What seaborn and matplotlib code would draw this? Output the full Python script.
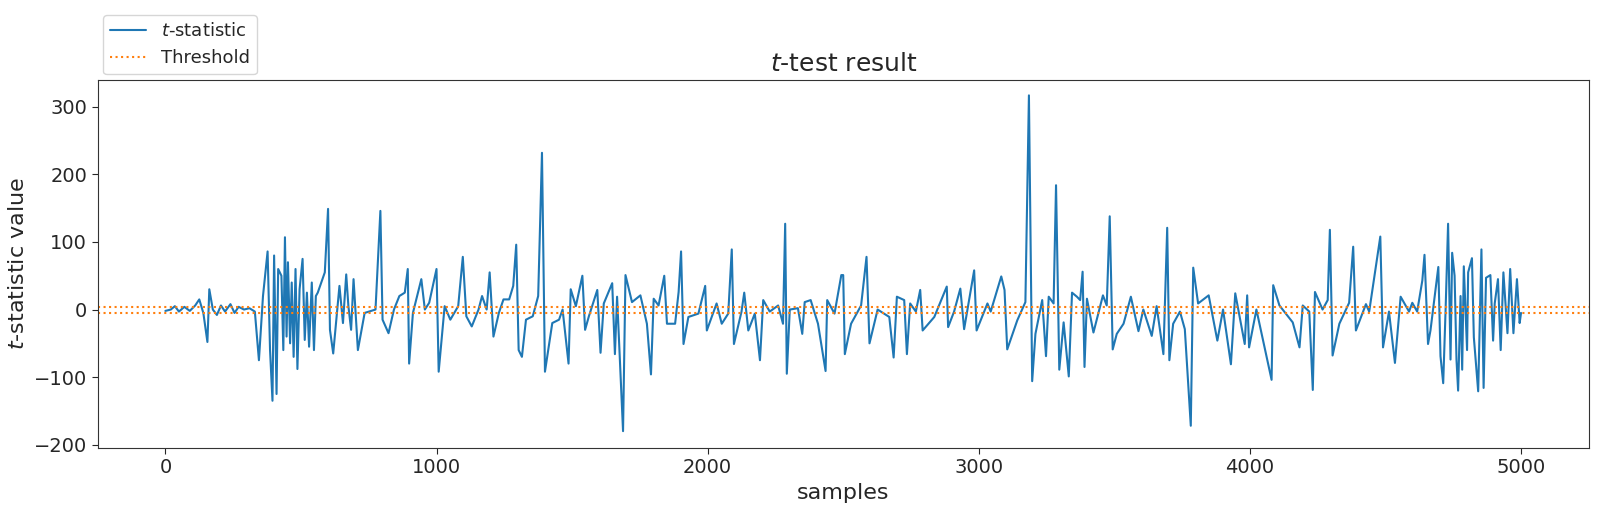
import numpy as np
import pandas as pd
import matplotlib
matplotlib.use("Agg")
import matplotlib.pyplot as plt
import seaborn as sns

samples = [0, 20, 35, 50, 70, 90, 110, 125, 140, 155, 162, 175, 190, 205, 220, 240, 255, 270, 290, 310, 330,
           345, 360, 377, 386, 395, 401, 410, 416, 428, 435, 441, 447, 452, 460, 466, 473, 480, 487, 495, 506,
           514, 522, 530, 540, 548, 555, 562, 588, 600, 607, 619, 635, 642, 655, 667, 675, 685, 694, 710, 735,
           775, 793, 801, 823, 843, 863, 883, 894, 899, 913, 944, 957, 973, 1000, 1008, 1030, 1051, 1080, 1097,
           1110, 1130, 1155, 1168, 1185, 1196, 1210, 1230, 1247, 1268, 1283, 1294, 1303, 1315, 1330, 1355, 1375,
           1389, 1400, 1427, 1452, 1465, 1487, 1495, 1514, 1538, 1548, 1562,
           1593, 1605, 1617, 1648, 1658, 1666, 1688, 1697, 1721, 1752, 1776, 1791, 1801, 1819, 1840, 1850, 1880,
           1893, 1902, 1911, 1929, 1966, 1991, 1997, 2033, 2052, 2076, 2089, 2097, 2125, 2135, 2150, 2174, 2193,
           2205, 2229, 2260, 2278, 2286, 2292, 2303, 2333, 2349, 2358, 2380, 2407, 2435, 2441, 2468, 2493, 2500,
           2506, 2529, 2566, 2586, 2597, 2627, 2670, 2686, 2698, 2725, 2735, 2747, 2768, 2784, 2793, 2836, 2882,
           2887, 2909, 2932, 2946, 2983, 2992, 3032, 3044, 3083, 3095, 3105, 3142, 3172, 3185, 3197, 3209,
           3234, 3248, 3258, 3276, 3285, 3297, 3313, 3332, 3344, 3362, 3374, 3383, 3390, 3399, 3423, 3458, 3472,
           3483, 3494, 3509, 3534, 3561, 3589, 3607, 3638, 3656, 3681, 3695, 3703, 3717, 3742, 3760, 3782, 3791,
           3809, 3848, 3880, 3901, 3930, 3946, 3981, 3990, 3997, 4024, 4080, 4086, 4109, 4158, 4183, 4195, 4219,
           4232, 4240, 4268, 4287, 4295, 4305, 4330, 4366, 4381, 4391, 4428, 4440, 4481, 4491, 4513, 4535, 4556,
           4587, 4599, 4617, 4636, 4644, 4657, 4666, 4695, 4703, 4713, 4722, 4731, 4740, 4746, 4755, 4762, 4768,
           4777, 4783, 4789, 4801, 4805, 4819, 4826, 4842, 4854, 4862, 4871, 4887, 4897, 4903, 4915, 4925, 4935,
           4950, 4960, 4972, 4985, 4995, 5000]
t_values = [-2, 0, 5, -3, 4, -2, 6, 15, -5, -48, 30, 0, -8, 6, -3, 8, -5, 4, 0, 2, -3,
            -75, 20, 86, -60, -135, 80, -125, 60, 50, -60, 107, -40, 70, -50, 40, -70, 60, -88, 30, 75,
            -45, 25, -55, 40, -60, 20, 25, 55, 149, -30, -65, 5, 35, -20, 52, 5, -30, 45, -60, -5,
            0, 146, -15, -35, 0, 20, 25, 60, -80, -5, 45, 0, 10, 60, -92, 5, -15, 5, 78,
            -10, -25, 0, 20, 0, 55, -40, -5, 15, 15, 35, 96, -60, -70, -15, -10, 20,
            232, -92, -20, -15, 0, -80, 30, 5, 50, -30, -10,
            29, -64, 9, 39, -66, 19, -180, 51, 11, 21, -21, -96, 16, 6, 50, -21, -21,
            26, 86, -51, -11, -6, 35, -31, 9, -21, -6, 89, -51, -3, 25, -31, -6, -75,
            14, -3, 6, -21, 127, -95, 0, 2, -36, 11, 14, -21, -91, 14, -6, 51, 51,
            -66, -21, 6, 78, -50, 0, -11, -71, 19, 14, -66, 9, -3, 29, -31, -11, 34,
            -26, -3, 31, -29, 58, -31, 9, -3, 49, 29, -59, -16, 11, 317, -106, -36,
            14, -69, 19, 9, 184, -89, -19, -99, 25, 19, 14, 56, -85, 16, -34, 21, 6,
            138, -59, -36, -21, 19, -32, 0, -39, 5, -66, 121, -75, -21, -3, -29, -172, 62,
            9, 21, -46, 0, -81, 24, -51, 21, -56, 0, -104, 36, 6, -19, -56, 6, -3,
            -119, 26, 0, 14, 118, -68, -21, 10, 93, -31, 8, -3, 108, -56, -3, -79, 19,
            -3, 10, -3, 43, 81, -51, -31, 63, -69, -109, 2, 127, -74, 84, 50, -74, -120,
            20, -89, 64, -60, 55, 76, -41, -121, 89, -116, 47, 51, -46, 9, 45, -60, 55,
            -35, 60, -35, 45, -20, -5]
threshold = 4.5

df = pd.DataFrame({"samples": samples, "t": t_values})

sns.set_style("white")
plt.rcParams['font.family'] = ['DejaVu Sans']
fig, ax = plt.subplots(figsize=(16, 5.15), dpi=100)
fig.subplots_adjust(left=0.061, right=0.993, top=0.845, bottom=0.13)

sns.lineplot(data=df, x="samples", y="t", ax=ax, color="#1f77b4", lw=1.5, label="$t$-statistic")
ax.axhline(threshold, color="#ff7f0e", ls=":", lw=1.5, label="Threshold")
ax.axhline(-threshold, color="#ff7f0e", ls=":", lw=1.5)

ax.set_xlim(-250, 5250)
ax.set_ylim(-205, 340)
ax.set_xticks([0, 1000, 2000, 3000, 4000, 5000])
ax.set_yticks([-200, -100, 0, 100, 200, 300])
ax.tick_params(labelsize=14, length=4, left=True, bottom=True)
ax.set_xlabel("samples", fontsize=16)
ax.set_ylabel("$t$-statistic value", fontsize=16)
ax.set_title("$t$-test result", fontsize=18)
for s in ax.spines.values():
    s.set_color("#333333")
ax.legend(loc="lower left", bbox_to_anchor=(0.0, 1.0), fontsize=13, frameon=True, borderaxespad=0.3)

fig.savefig("out.png")
